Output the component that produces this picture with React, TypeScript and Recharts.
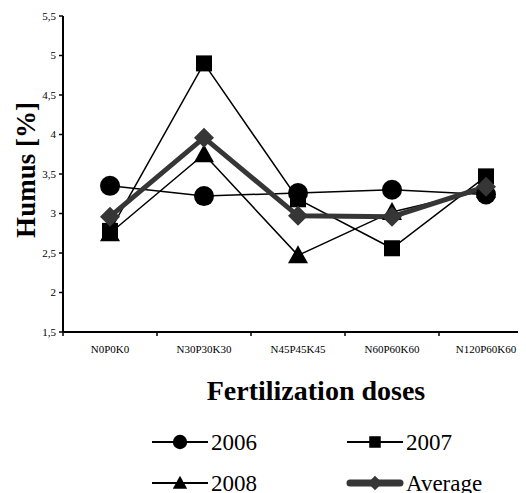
import { Legend, Line, LineChart, XAxis, YAxis } from 'recharts';

const categories = ['N0P0K0', 'N30P30K30', 'N45P45K45', 'N60P60K60', 'N120P60K60'];
const humus2006 = [3.35, 3.22, 3.26, 3.3, 3.24];
const humus2007 = [2.78, 4.9, 3.18, 2.56, 3.47];
const humus2008 = [2.75, 3.75, 2.47, 3.02, 3.3];
const humusAverage = [2.96, 3.96, 2.97, 2.96, 3.34];
const yTicks = [1.5, 2, 2.5, 3, 3.5, 4, 4.5, 5, 5.5];

const data = categories.map((dose, i) => ({
  dose,
  y2006: humus2006[i],
  y2007: humus2007[i],
  y2008: humus2008[i],
  avg: humusAverage[i],
}));

const FONT = '"Liberation Serif", "Times New Roman", serif';
const W = 530;
const H = 485;
const Y_AXIS_W = 55;
const RIGHT = 5;
const BAND = (W - Y_AXIS_W - RIGHT) / categories.length;
const AVG_COLOR = '#363636';

function Marker({ kind, cx, cy, s = 1 }: { kind: string; cx: number; cy: number; s?: number }) {
  if (kind === 'circle') return <circle cx={cx} cy={cy} r={10 * s} fill="#000" />;
  if (kind === 'square') return <rect x={cx - 8 * s} y={cy - 8 * s} width={16 * s} height={16 * s} fill="#000" />;
  if (kind === 'triangle')
    return (
      <polygon
        points={`${cx},${cy - 10 * s} ${cx + 10 * s},${cy + 8 * s} ${cx - 10 * s},${cy + 8 * s}`}
        fill="#000"
      />
    );
  return (
    <polygon
      points={`${cx},${cy - 10 * s} ${cx + 10 * s},${cy} ${cx},${cy + 10 * s} ${cx - 10 * s},${cy}`}
      fill={AVG_COLOR}
    />
  );
}

const dotFor = (kind: string) => (props: any) =>
  <Marker key={`${kind}-${props.index}`} kind={kind} cx={props.cx} cy={props.cy} />;

function DoseTick(props: any) {
  const { x, y, payload } = props;
  const left = x - BAND / 2;
  return (
    <g>
      <line x1={left} y1={y} x2={left} y2={y + 4} stroke="#000" strokeWidth={1.5} />
      <text x={x} y={y + 21} textAnchor="middle" fontSize={11} fontFamily={FONT} fill="#000">
        {payload.value}
      </text>
    </g>
  );
}

const legendItems = [
  { label: '2006', kind: 'circle', col: 0, row: 0 },
  { label: '2007', kind: 'square', col: 1, row: 0 },
  { label: '2008', kind: 'triangle', col: 0, row: 1 },
  { label: 'Average', kind: 'diamond', col: 1, row: 1 },
];

function renderLegend() {
  return (
    <svg width={W} height={85} style={{ display: 'block' }}>
      {legendItems.map((it) => {
        const x0 = it.col === 0 ? 144 : 339;
        const cy = it.row === 0 ? 34 : 75;
        const avg = it.kind === 'diamond';
        return (
          <g key={it.label}>
            <line
              x1={avg ? x0 + 3 : x0}
              y1={cy}
              x2={avg ? x0 + 53 : x0 + 56}
              y2={cy}
              stroke={avg ? AVG_COLOR : '#000'}
              strokeWidth={avg ? 7 : 2}
              strokeLinecap={avg ? 'round' : 'butt'}
            />
            <Marker kind={it.kind} cx={x0 + 28} cy={cy} s={0.72} />
            <text x={x0 + 59} y={cy} dy="0.35em" fontSize={23} fontFamily={FONT} fill="#000">
              {it.label}
            </text>
          </g>
        );
      })}
    </svg>
  );
}

export default function App() {
  return (
    <div style={{ width: 510, overflow: 'hidden' }}>
      <LineChart width={W} height={H} data={data} margin={{ top: 8, right: RIGHT, left: 0, bottom: 0 }}>
        <XAxis
          dataKey="dose"
          height={76}
          interval={0}
          padding={{ left: BAND / 2, right: BAND / 2 }}
          tickSize={0}
          tickMargin={0}
          tickLine={false}
          axisLine={{ stroke: '#000', strokeWidth: 2 }}
          tick={<DoseTick />}
          label={{
            content: () => (
              <text x={308} y={382} dy="0.35em" textAnchor="middle" fontSize={28} fontWeight="bold" fontFamily={FONT} fill="#000">
                Fertilization doses
              </text>
            ),
          }}
        />
        <YAxis
          width={Y_AXIS_W}
          domain={[1.5, 5.5]}
          ticks={yTicks}
          tickSize={4}
          tickMargin={3}
          axisLine={{ stroke: '#000', strokeWidth: 2 }}
          tickLine={{ stroke: '#000', strokeWidth: 1.5 }}
          tick={{ fontSize: 11, fill: '#000', fontFamily: FONT }}
          tickFormatter={(v: number) => String(v).replace('.', ',')}
          label={{
            content: () => (
              <g transform="translate(18 162) rotate(-90)">
                <text
                  x={0}
                  y={0}
                  textAnchor="middle"
                  dominantBaseline="central"
                  fontSize={27}
                  fontWeight="bold"
                  fontFamily={FONT}
                  fill="#000"
                >
                  Humus [%]
                </text>
              </g>
            ),
          }}
        />
        <Legend verticalAlign="bottom" content={renderLegend} />
        <Line dataKey="y2006" stroke="#000" strokeWidth={1.5} dot={dotFor('circle')} isAnimationActive={false} />
        <Line dataKey="y2007" stroke="#000" strokeWidth={1.5} dot={dotFor('square')} isAnimationActive={false} />
        <Line dataKey="y2008" stroke="#000" strokeWidth={1.5} dot={dotFor('triangle')} isAnimationActive={false} />
        <Line dataKey="avg" stroke={AVG_COLOR} strokeWidth={5} dot={dotFor('diamond')} isAnimationActive={false} />
      </LineChart>
    </div>
  );
}
